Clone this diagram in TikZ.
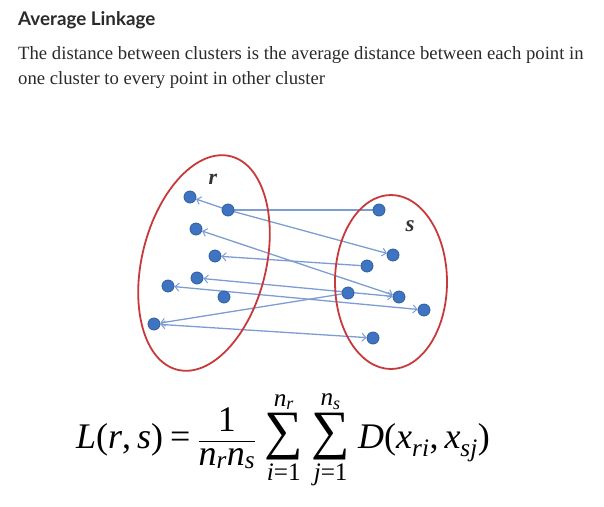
\documentclass[tikz,border=0pt]{standalone}
\usepackage{amsmath}
\usepackage[no-math]{fontspec}
\setmainfont{Liberation Serif}
\newfontfamily\titlefont{Lato}
\newfontfamily\bodyfont{Liberation Serif}
\newfontfamily\lblfont{Liberation Serif}
\newcommand\tvar[1]{\textit{#1}}
\newcommand\tnum[1]{\text{#1}}
\newcommand\bigsumop{\mathop{\text{\fontsize{54}{54}\selectfont ∑}}\limits}
\usetikzlibrary{arrows.meta}
\pgfdeclarelayer{bg}
\pgfsetlayers{bg,main}
\definecolor{ptfill}{HTML}{3E74C2}
\definecolor{ptdraw}{HTML}{2F5E9E}
\definecolor{lnk}{HTML}{7C9CD3}
\definecolor{ell}{HTML}{C8393C}
\definecolor{txt}{HTML}{2A2A2A}
\begin{document}
\begin{tikzpicture}[x=1pt,y=-1pt,
  pt/.style={circle,fill=ptfill,draw=ptdraw,line width=0.8pt,minimum size=12pt,inner sep=0pt},
  lnkline/.style={draw=lnk,line width=1.3pt},
  hd/.style={-{Straight Barb[length=4pt,width=8pt,line width=1pt]}},
  hh/.style={{Straight Barb[length=4pt,width=8pt,line width=1pt]}-{Straight Barb[length=4pt,width=8pt,line width=1pt]}},
  ellline/.style={draw=ell,line width=1.8pt}]
\useasboundingbox (0,0) rectangle (604,506);
% texts
\node[anchor=base west,inner sep=0pt,text=txt,font=\titlefont\bfseries\fontsize{18.8}{22}\selectfont] (title) at (18,25) {Average Linkage};
\node[anchor=base west,inner sep=0pt,text=txt,font=\bodyfont\fontsize{18.7}{22}\selectfont] (l1) at (18,59) {The distance between clusters is the average distance between each point in};
\node[anchor=base west,inner sep=0pt,text=txt,font=\bodyfont\fontsize{18.7}{22}\selectfont] (l2) at (18,84) {one cluster to every point in other cluster};
% ellipses
\draw[ellline,rotate around={76:(204,263)}] (204,263) ellipse [x radius=110,y radius=62];
\draw[ellline] (391,282) ellipse [x radius=56,y radius=87];
% points r
\node[pt] (r1) at (190,197) {};
\node[pt] (r2) at (228,210) {};
\node[pt] (r3) at (196,229) {};
\node[pt] (r4) at (215,256) {};
\node[pt] (r5) at (197,278) {};
\node[pt] (r6) at (168,286) {};
\node[pt] (r7) at (224,297) {};
\node[pt] (r8) at (154,324) {};
% points s
\node[pt] (s1) at (379,210) {};
\node[pt] (s2) at (393,255) {};
\node[pt] (s3) at (367,266) {};
\node[pt] (s4) at (348,293) {};
\node[pt] (s5) at (399,297) {};
\node[pt] (s6) at (424,310) {};
\node[pt] (s7) at (373,338) {};
% labels
\node[font=\lblfont\bfseries\itshape\fontsize{22}{24}\selectfont,text=black!80] (rl) at (213,179) {r};
\node[font=\lblfont\bfseries\itshape\fontsize{23}{24}\selectfont,text=black!80] (sl) at (410,226) {s};
% links
\begin{pgfonlayer}{bg}
\draw[lnkline] (s1) -- (r2);
\draw[lnkline,hd] (r2) -- (r1);
\draw[lnkline,hd] (r2) -- (s2);
\draw[lnkline,hh] (r3) -- (s5);
\draw[lnkline,hd] (s3) -- (r4);
\draw[lnkline,hh] (r5) -- (s5);
\draw[lnkline,hh] (r6) -- (s6);
\draw[lnkline,hd] (s4) -- (r8);
\draw[lnkline,hh] (r8) -- (s7);
\end{pgfonlayer}
% formula
\node[anchor=base west,inner sep=0pt,font=\fontsize{36}{40}\selectfont] (formula) at (76,448)
  {$\displaystyle \tvar{L}\tnum{(}\tvar{r}\tnum{,\,}\tvar{s}\tnum{)}\mathrel{\tnum{=}}\frac{\tnum{1}}{\tvar{n}_{\tvar{r}}\tvar{n}_{\tvar{s}}}\,\bigsumop_{\tvar{i}\tnum{=1}}^{\tvar{n}_{\tvar{r}}}\,\bigsumop_{\tvar{j}\tnum{=1}}^{\tvar{n}_{\tvar{s}}}\,\tvar{D}\tnum{(}\tvar{x}_{\tvar{ri}}\tnum{,\,}\tvar{x}_{\tvar{sj}}\tnum{)}$};
\end{tikzpicture}
\end{document}
